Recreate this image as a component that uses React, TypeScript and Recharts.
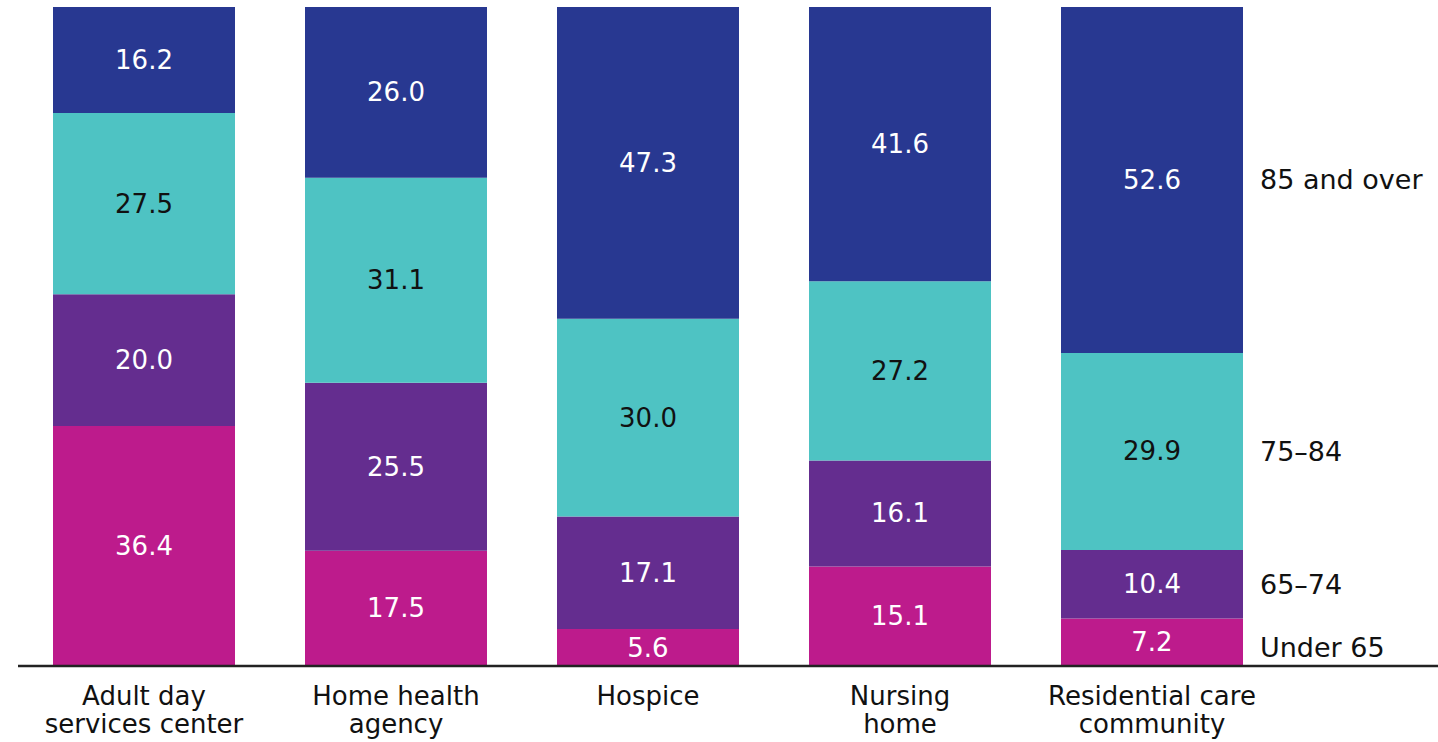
import React from 'react';
import { BarChart, Bar, XAxis, YAxis, LabelList } from 'recharts';

// --- Data ---

const categories = [
  'Adult day\nservices center',
  'Home health\nagency',
  'Hospice',
  'Nursing\nhome',
  'Residential care\ncommunity',
];

const under65 = [36.4, 17.5, 5.6, 15.1, 7.2];
const age65to74 = [20.0, 25.5, 17.1, 16.1, 10.4];
const age75to84 = [27.5, 31.1, 30.0, 27.2, 29.9];
const age85plus = [16.2, 26.0, 47.3, 41.6, 52.6];

const seriesNames = ['Under 65', '65–74', '75–84', '85 and over'];

const data = categories.map((name, i) => ({
  name,
  under65: under65[i],
  age65to74: age65to74[i],
  age75to84: age75to84[i],
  age85plus: age85plus[i],
}));

const FONT = '"DejaVu Sans", sans-serif';

const series = [
  { key: 'under65', color: '#bd1b8c', text: '#ffffff', label: seriesNames[0], nameDy: 5 },
  { key: 'age65to74', color: '#642d8f', text: '#ffffff', label: seriesNames[1], nameDy: 0 },
  { key: 'age75to84', color: '#4ec3c3', text: '#111111', label: seriesNames[2], nameDy: 0 },
  { key: 'age85plus', color: '#283891', text: '#ffffff', label: seriesNames[3], nameDy: 0 },
];

// --- Custom pieces ---

const CategoryTick = (props: any) => {
  const { x, y, payload } = props;
  const lines = String(payload.value).split('\n');
  return (
    <text
      x={x}
      y={y}
      textAnchor="middle"
      fill="#111"
      fontFamily={FONT}
      fontSize={26}
    >
      {lines.map((line: string, i: number) => (
        <tspan key={i} x={x} dy={i === 0 ? 31 : 28}>
          {line}
        </tspan>
      ))}
    </text>
  );
};

const makeSegmentLabel = (textColor: string, seriesLabel: string, nameDy: number) => (props: any) => {
  const { x, y, width, height, value, index } = props;
  const cx = x + width / 2;
  const cy = y + height / 2;
  return (
    <g>
      <text
        x={cx}
        y={cy}
        textAnchor="middle"
        dominantBaseline="central"
        fill={textColor}
        fontFamily={FONT}
        fontSize={26}
      >
        {Number(value).toFixed(1)}
      </text>
      {index === categories.length - 1 && (
        <text
          x={x + width + 17}
          y={cy + nameDy}
          textAnchor="start"
          dominantBaseline="central"
          fill="#111"
          fontFamily={FONT}
          fontSize={27}
        >
          {seriesLabel}
        </text>
      )}
    </g>
  );
};

export default function App() {
  return (
    <div style={{ position: 'absolute', left: 0, top: 0, background: '#fff' }}>
      <BarChart
        width={1438}
        height={742}
        data={data}
        margin={{ top: 7, right: 0, left: 18, bottom: 6 }}
      >
        <XAxis
          dataKey="name"
          interval={0}
          height={70}
          tickLine={false}
          axisLine={{ stroke: '#222', strokeWidth: 2.5 }}
          padding={{ left: 0, right: 160 }}
          tick={<CategoryTick />}
        />
        <YAxis hide domain={[0, 100]} allowDataOverflow />
        {series.map((s) => (
          <Bar
            key={s.key}
            dataKey={s.key}
            stackId="age"
            fill={s.color}
            barSize={182}
            isAnimationActive={false}
          >
            <LabelList dataKey={s.key} content={makeSegmentLabel(s.text, s.label, s.nameDy)} />
          </Bar>
        ))}
      </BarChart>
    </div>
  );
}
